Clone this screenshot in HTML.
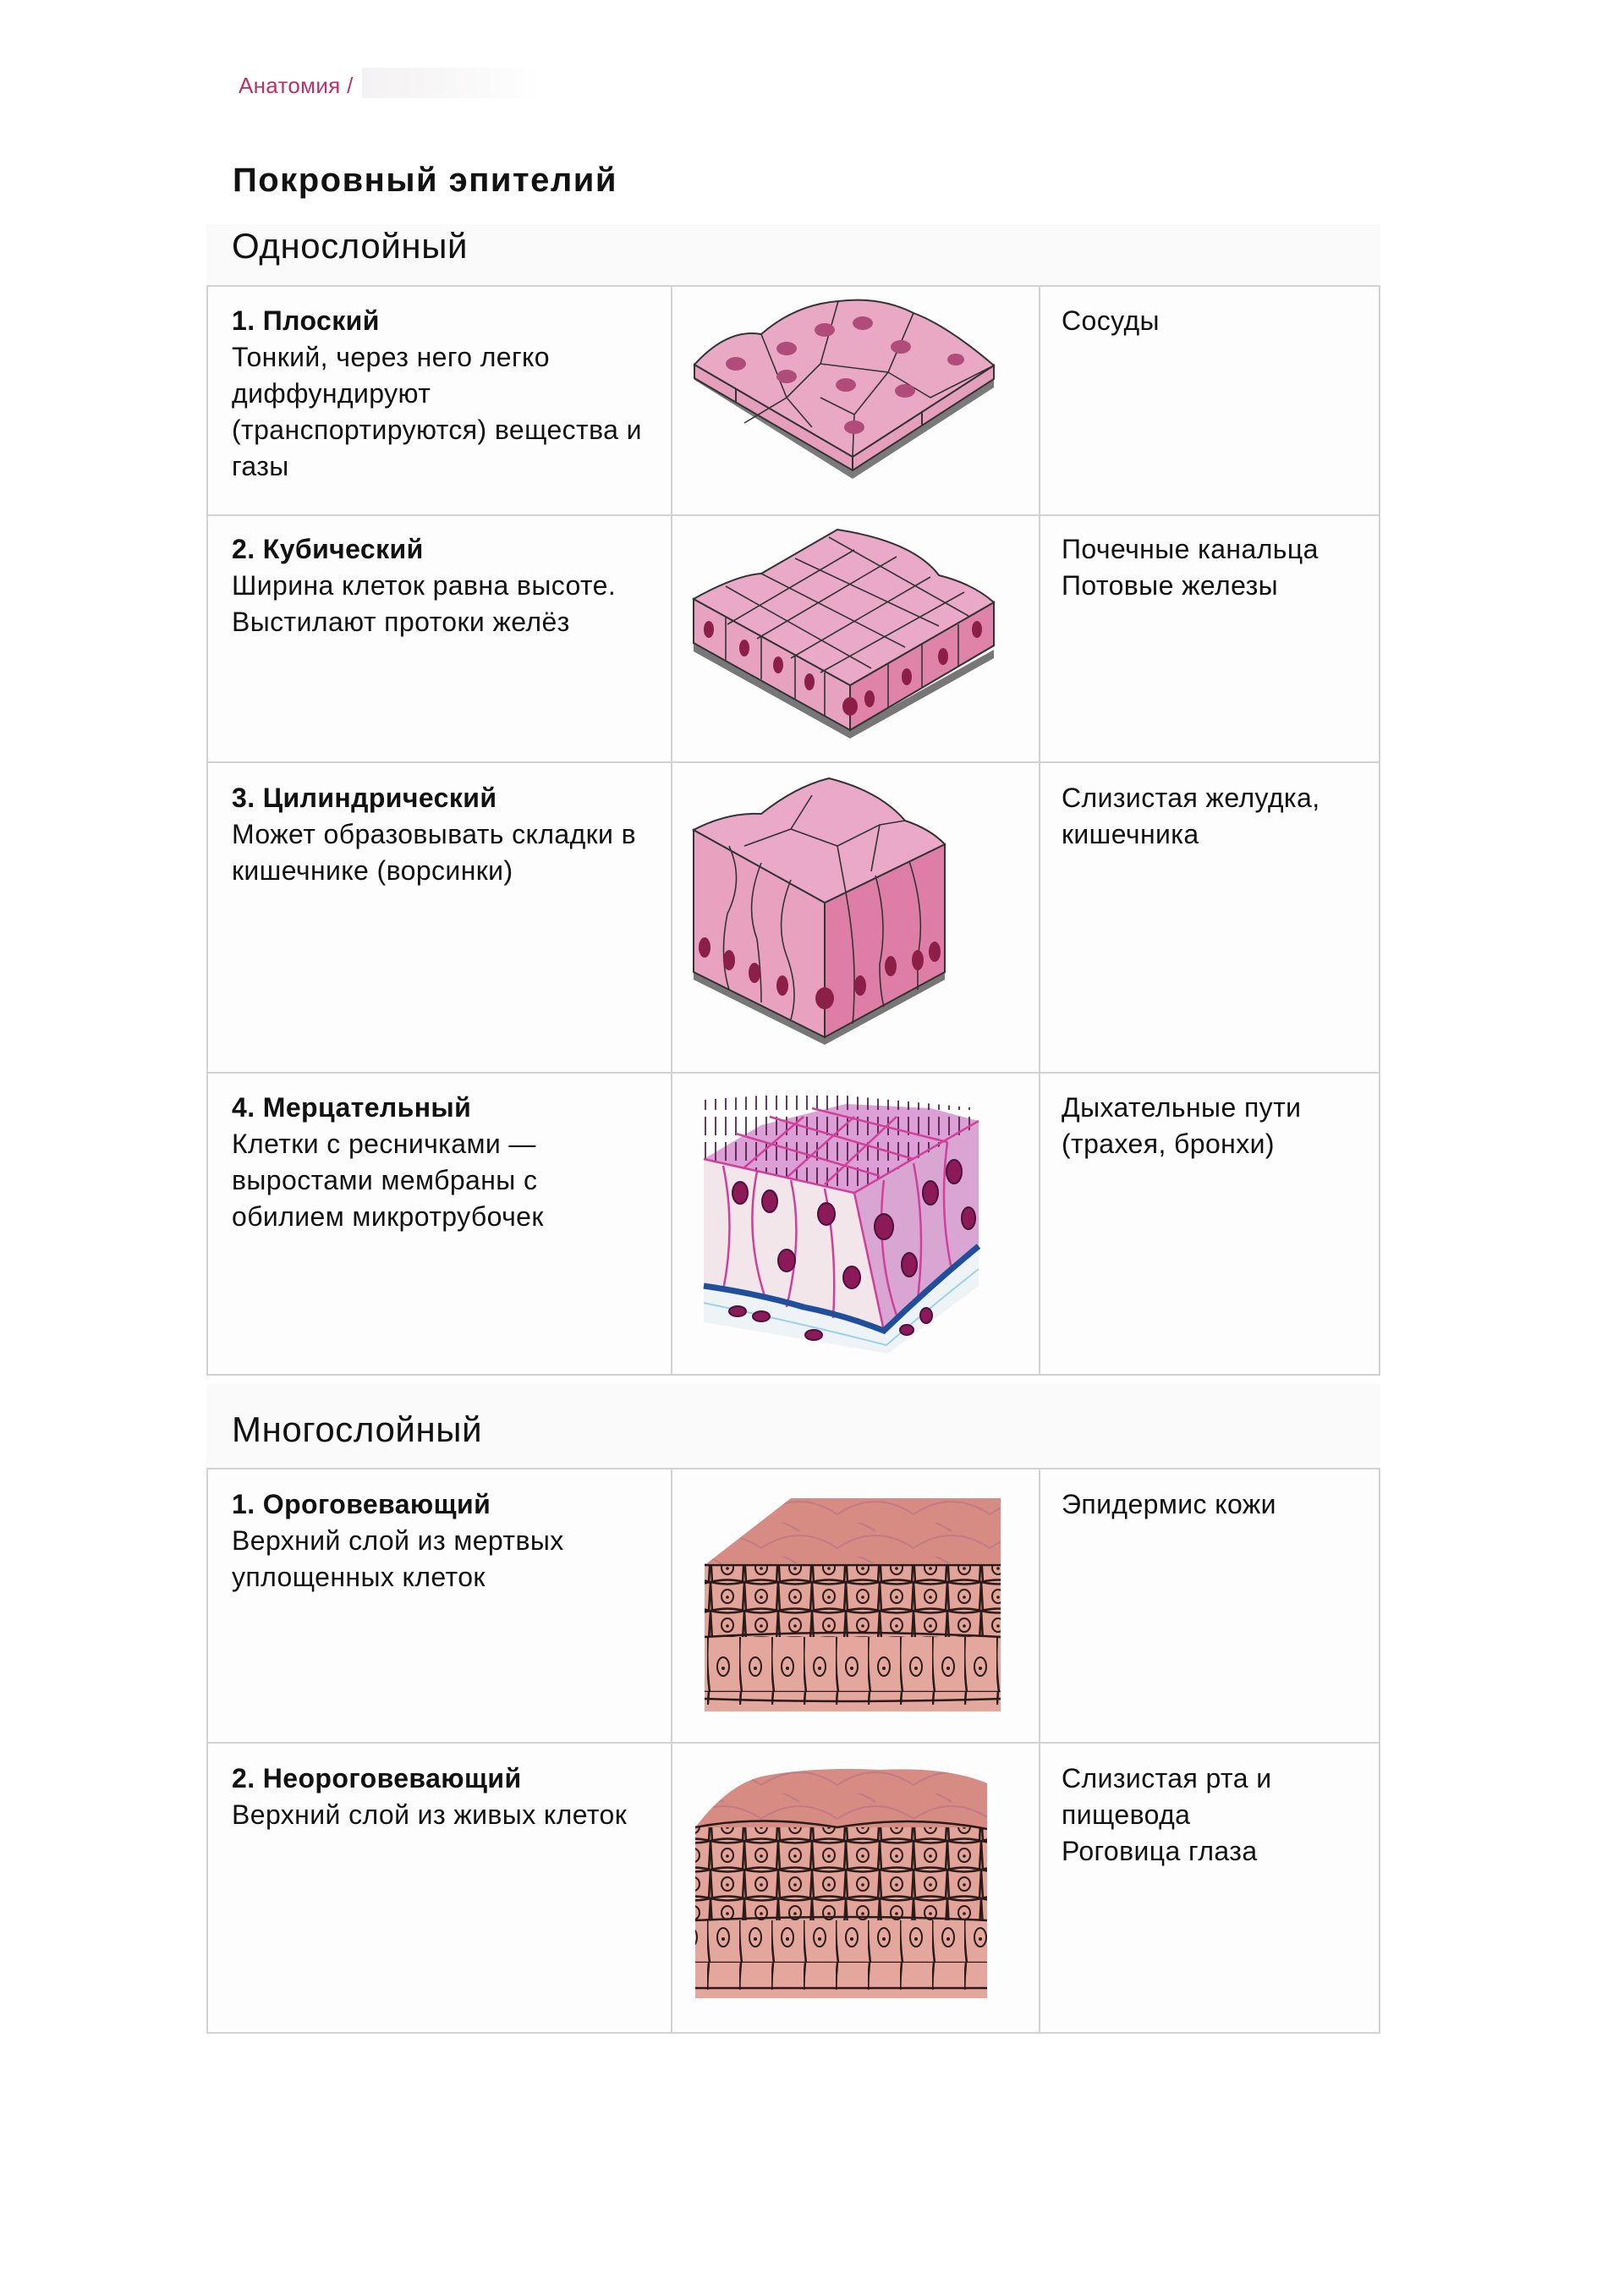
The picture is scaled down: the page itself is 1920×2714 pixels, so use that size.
<!DOCTYPE html>
<html><head><meta charset="utf-8"><style>
html,body{margin:0;padding:0;background:#fff;}
body{width:1920px;height:2714px;position:relative;overflow:hidden;font-family:"Liberation Sans","Noto Sans CJK SC",sans-serif;color:#111;}
.a{position:absolute;}
.t{position:absolute;font-size:32px;line-height:43px;white-space:nowrap;letter-spacing:0.4px;}
.t b{font-weight:bold;}
.band{position:absolute;left:244px;width:1388px;background:#fafafa;}
.h{position:absolute;font-size:42px;line-height:50px;letter-spacing:0.6px;}
.cell{position:absolute;background:#fdfdfd;border:2px solid #d2d2d2;box-sizing:border-box;}
</style></head><body>
<div class="t" style="left:282px;top:80px;font-size:26px;color:#b8336a;letter-spacing:0.3px">Анатомия /</div>
<div class="a" style="left:428px;top:80px;width:210px;height:36px;background:linear-gradient(90deg,#f4f2f3,#fbfafb 70%,#fff)"></div>
<div class="t" style="left:275px;top:190px;font-size:40px;font-weight:bold;line-height:46px;letter-spacing:1.5px">Покровный эпителий</div>

<div class="band" style="top:265px;height:73px"></div>
<div class="h" style="left:274px;top:266px">Однослойный</div>
<div class="band" style="top:1636px;height:100px"></div>
<div class="h" style="left:274px;top:1665px">Многослойный</div>

<div class="cell" style="left:244px;top:337px;width:551px;height:273px"></div>
<div class="cell" style="left:793px;top:337px;width:437px;height:273px"></div>
<div class="cell" style="left:1228px;top:337px;width:404px;height:273px"></div>
<div class="cell" style="left:244px;top:608px;width:551px;height:294px"></div>
<div class="cell" style="left:793px;top:608px;width:437px;height:294px"></div>
<div class="cell" style="left:1228px;top:608px;width:404px;height:294px"></div>
<div class="cell" style="left:244px;top:900px;width:551px;height:369px"></div>
<div class="cell" style="left:793px;top:900px;width:437px;height:369px"></div>
<div class="cell" style="left:1228px;top:900px;width:404px;height:369px"></div>
<div class="cell" style="left:244px;top:1267px;width:551px;height:359px"></div>
<div class="cell" style="left:793px;top:1267px;width:437px;height:359px"></div>
<div class="cell" style="left:1228px;top:1267px;width:404px;height:359px"></div>
<div class="cell" style="left:244px;top:1735px;width:551px;height:326px"></div>
<div class="cell" style="left:793px;top:1735px;width:437px;height:326px"></div>
<div class="cell" style="left:1228px;top:1735px;width:404px;height:326px"></div>
<div class="cell" style="left:244px;top:2059px;width:551px;height:345px"></div>
<div class="cell" style="left:793px;top:2059px;width:437px;height:345px"></div>
<div class="cell" style="left:1228px;top:2059px;width:404px;height:345px"></div>

<div class="t" style="left:274px;top:358px"><b>1. Плоский</b><br>Тонкий, через него легко<br>диффундируют<br>(транспортируются) вещества и<br>газы</div>
<div class="t" style="left:1255px;top:358px">Сосуды</div>
<div class="t" style="left:274px;top:628px"><b>2. Кубический</b><br>Ширина клеток равна высоте.<br>Выстилают протоки желёз</div>
<div class="t" style="left:1255px;top:628px">Почечные канальца<br>Потовые железы</div>
<div class="t" style="left:274px;top:922px"><b>3. Цилиндрический</b><br>Может образовывать складки в<br>кишечнике (ворсинки)</div>
<div class="t" style="left:1255px;top:922px">Слизистая желудка,<br>кишечника</div>
<div class="t" style="left:274px;top:1288px"><b>4. Мерцательный</b><br>Клетки с ресничками —<br>выростами мембраны с<br>обилием микротрубочек</div>
<div class="t" style="left:1255px;top:1288px">Дыхательные пути<br>(трахея, бронхи)</div>
<div class="t" style="left:274px;top:1757px"><b>1. Ороговевающий</b><br>Верхний слой из мертвых<br>уплощенных клеток</div>
<div class="t" style="left:1255px;top:1757px">Эпидермис кожи</div>
<div class="t" style="left:274px;top:2081px"><b>2. Неороговевающий</b><br>Верхний слой из живых клеток</div>
<div class="t" style="left:1255px;top:2081px">Слизистая рта и<br>пищевода<br>Роговица глаза</div>

<svg class="a" style="left:0;top:0" width="1920" height="2714" viewBox="0 0 1920 2714">
<defs>
<pattern id="strat" width="40" height="34" patternUnits="userSpaceOnUse">
<rect width="40" height="34" fill="#e2a399"/>
<path d="M0 0 Q20 5 40 0 M0 34 Q20 29 40 34 M0 0 L2 34 M40 0 L38 34" stroke="#2a1a18" stroke-width="2.5" fill="none"/>
<ellipse cx="20" cy="17" rx="7" ry="8" fill="none" stroke="#2a1a18" stroke-width="2"/>
<circle cx="20" cy="18" r="1.8" fill="#2a1a18"/>
</pattern>
<pattern id="basal" width="38" height="80" patternUnits="userSpaceOnUse">
<rect width="38" height="80" fill="#e3a79d"/>
<path d="M2 0 Q-2 40 3 80 M0 80 L38 80" stroke="#2a1a18" stroke-width="2.5" fill="none"/>
<ellipse cx="19" cy="50" rx="7" ry="11" fill="none" stroke="#2a1a18" stroke-width="2"/>
<circle cx="19" cy="52" r="2" fill="#2a1a18"/>
</pattern>
<pattern id="scales" width="90" height="40" patternUnits="userSpaceOnUse">
<rect width="90" height="40" fill="#d68c82"/>
<path d="M0 30 Q45 0 90 30 M-45 10 Q0 -20 45 10" stroke="#c27a86" stroke-width="2" fill="none"/>
</pattern>
<pattern id="cil" width="12" height="30" patternUnits="userSpaceOnUse">
<line x1="6" y1="0" x2="6" y2="22" stroke="#4a1a40" stroke-width="2"/>
</pattern>
</defs>

<g stroke="#333" stroke-width="2">
<polygon points="821,431 1008,548 1175,440 1175,458 1008,566 821,449" fill="#7a7a7a" stroke="none"/>
<polygon points="821,431 1008,540 1175,432 1175,448 1008,556 821,447" fill="#e69fbb"/>
<path d="M821,431 Q860,388 900,395 Q940,360 991,356 Q1040,350 1080,370 Q1120,385 1175,432 L1008,540 Z" fill="#e9a8c4"/>
<path d="M900,395 L930,470 L880,500 M930,470 L970,430 L991,356 M970,430 L1050,440 L1080,370 M1050,440 L1100,470 L1175,432 M1050,440 L1010,490 L970,470 M1010,490 L1008,540 M930,470 L960,505" fill="none" stroke-width="1.6"/>
<line x1="1008" y1="540" x2="1008" y2="556"/><line x1="870" y1="460" x2="870" y2="476"/><line x1="1090" y1="486" x2="1090" y2="502"/>
</g>
<g fill="#b04c7a">
<ellipse cx="870" cy="430" rx="12" ry="8"/><ellipse cx="930" cy="412" rx="12" ry="8"/><ellipse cx="975" cy="390" rx="12" ry="8"/>
<ellipse cx="1020" cy="382" rx="12" ry="8"/><ellipse cx="1065" cy="410" rx="12" ry="8"/><ellipse cx="1000" cy="455" rx="12" ry="8"/>
<ellipse cx="930" cy="445" rx="12" ry="8"/><ellipse cx="1070" cy="462" rx="12" ry="8"/><ellipse cx="1130" cy="425" rx="10" ry="7"/><ellipse cx="1010" cy="505" rx="12" ry="8"/>
</g>

<g stroke="#333" stroke-width="2">
<polygon points="820,760 1005,863 1175,768 1175,778 1005,873 820,770" fill="#777" stroke="none"/>
<polygon points="820,708 1005,810 1175,712 1175,763 1005,863 820,760" fill="#e7a2c0"/>
<polygon points="1005,810 1175,712 1175,763 1005,863" fill="#df83a8"/>
<path d="M820,708 Q870,680 900,678 Q940,655 990,626 Q1080,640 1110,680 Q1150,690 1175,712 L1005,810 Z" fill="#eaa9c6"/>
<path d="M858,693 L1030,790 M900,678 L1070,765 M940,660 L1110,740 M980,635 L1145,728 M860,738 L1010,650 M895,755 L1060,658 M935,778 L1100,682 M970,795 L1140,700" fill="none" stroke-width="1.6"/>
<path d="M858,729 L858,780 M900,752 L900,803 M940,775 L940,826 M975,795 L975,846 M1050,785 L1050,836 M1090,762 L1090,812 M1133,738 L1133,788" fill="none" stroke-width="1.6"/>
</g>
<g fill="#8c1f47">
<ellipse cx="838" cy="744" rx="6" ry="10"/><ellipse cx="880" cy="766" rx="6" ry="10"/><ellipse cx="920" cy="786" rx="6" ry="10"/>
<ellipse cx="957" cy="806" rx="6" ry="10"/><ellipse cx="1005" cy="835" rx="9" ry="11"/><ellipse cx="1028" cy="826" rx="6" ry="10"/>
<ellipse cx="1072" cy="800" rx="6" ry="10"/><ellipse cx="1115" cy="776" rx="6" ry="10"/><ellipse cx="1155" cy="744" rx="6" ry="10"/>
</g>

<g stroke="#333" stroke-width="2">
<polygon points="820,1149 975,1226 1117,1149 1117,1158 975,1235 820,1158" fill="#777" stroke="none"/>
<polygon points="820,981 975,1067 975,1226 820,1149" fill="#e8a2c0"/>
<polygon points="975,1067 1117,998 1117,1149 975,1226" fill="#de7ea6"/>
<path d="M820,981 Q860,960 900,962 Q940,930 980,920 Q1040,935 1070,970 Q1100,980 1117,998 L975,1067 Z" fill="#eaa9c6"/>
<path d="M862,1000 Q880,1040 860,1080 Q850,1130 862,1170 M900,1020 Q880,1070 895,1110 Q900,1150 900,1185 M935,1040 Q915,1090 930,1130 Q945,1170 935,1205 M1000,1055 Q1010,1110 1010,1160 Q1010,1190 1008,1210 M1035,1035 Q1050,1090 1040,1140 Q1040,1170 1045,1190 M1075,1018 Q1095,1080 1085,1130 L1085,1170 M880,1000 L935,980 L990,1000 L1000,1055 M935,980 L960,940 M990,1000 L1040,975 L1070,970 M1040,975 L1030,1030" fill="none" stroke-width="1.6"/>
</g>
<g fill="#8c1f47">
<ellipse cx="833" cy="1120" rx="7" ry="12"/><ellipse cx="862" cy="1135" rx="7" ry="12"/><ellipse cx="892" cy="1150" rx="7" ry="12"/>
<ellipse cx="925" cy="1165" rx="7" ry="12"/><ellipse cx="975" cy="1180" rx="11" ry="13"/><ellipse cx="1017" cy="1165" rx="7" ry="12"/>
<ellipse cx="1053" cy="1142" rx="7" ry="12"/><ellipse cx="1085" cy="1135" rx="7" ry="12"/><ellipse cx="1105" cy="1125" rx="7" ry="12"/>
</g>

<g>
<polygon points="832,1520 1045,1573 1157,1473 1157,1520 1050,1600 832,1563" fill="#eef4f6"/>
<polygon points="832,1370 1010,1410 1045,1573 832,1520" fill="#f3e6ea"/>
<polygon points="1010,1410 1157,1325 1157,1473 1045,1573" fill="#d9a5d3"/>
<polygon points="832,1370 900,1330 1000,1305 1100,1310 1157,1325 1010,1410" fill="#dca0d6"/>
<polygon points="832,1300 900,1295 1000,1295 1157,1310 1157,1330 1010,1410 832,1370" fill="url(#cil)" opacity="0.85"/>
<path d="M832,1370 L1010,1410 L1157,1325 M870,1340 L1040,1390 M910,1320 L1080,1370 M960,1310 L1120,1350 M880,1380 L950,1320 M930,1392 L1010,1320 M975,1400 L1060,1320" stroke="#d0409a" stroke-width="2.5" fill="none"/>
<path d="M855,1378 Q870,1450 855,1525 M895,1385 Q880,1460 905,1535 M935,1395 Q950,1460 930,1545 M975,1405 Q990,1480 985,1558 M1045,1395 Q1035,1480 1060,1555 M1080,1375 Q1095,1450 1085,1535 M1120,1350 Q1110,1430 1125,1500 M1010,1410 L1045,1573" stroke="#d0409a" stroke-width="2.5" fill="none"/>
<path d="M832,1520 Q900,1530 950,1545 Q1000,1555 1045,1573 Q1100,1520 1157,1473" stroke="#1f4f9a" stroke-width="7" fill="none"/>
<path d="M832,1540 Q950,1565 1048,1590 Q1100,1545 1157,1500" stroke="#9fd0e6" stroke-width="2" fill="none"/>
</g>
<g fill="#8c1a58" stroke="#4a1040" stroke-width="2">
<ellipse cx="875" cy="1410" rx="9" ry="13"/><ellipse cx="910" cy="1420" rx="9" ry="13"/><ellipse cx="977" cy="1435" rx="10" ry="13"/>
<ellipse cx="930" cy="1490" rx="10" ry="13"/><ellipse cx="1007" cy="1510" rx="10" ry="13"/><ellipse cx="1045" cy="1450" rx="11" ry="15"/>
<ellipse cx="1100" cy="1410" rx="9" ry="14"/><ellipse cx="1128" cy="1385" rx="9" ry="14"/><ellipse cx="1145" cy="1440" rx="8" ry="13"/>
<ellipse cx="1075" cy="1495" rx="9" ry="14"/><ellipse cx="872" cy="1550" rx="10" ry="6"/><ellipse cx="900" cy="1556" rx="10" ry="6"/>
<ellipse cx="962" cy="1578" rx="10" ry="6"/><ellipse cx="1095" cy="1555" rx="7" ry="9"/><ellipse cx="1072" cy="1572" rx="8" ry="6"/>
</g>

<g>
<polygon points="833,1850 935,1771 1183,1771 1183,1850" fill="url(#scales)"/>
<rect x="833" y="1848" width="350" height="175" fill="#e3a79d"/>
<rect x="833" y="1850" width="350" height="30" fill="url(#strat)"/>
<rect x="833" y="1880" width="350" height="60" fill="url(#strat)"/>
<rect x="833" y="1935" width="350" height="80" fill="url(#basal)"/>
<path d="M833,1850 L1183,1850 M833,1935 Q1000,1925 1183,1935 M833,2008 Q1000,2014 1183,2008" stroke="#2a1a18" stroke-width="2.5" fill="none"/>
</g>

<g>
<path d="M822,2160 Q860,2110 900,2100 Q960,2088 1040,2092 Q1120,2088 1167,2108 L1167,2200 L822,2200 Z" fill="url(#scales)"/>
<rect x="822" y="2160" width="345" height="202" fill="#e3a79d"/>
<rect x="822" y="2160" width="345" height="40" fill="url(#strat)"/>
<rect x="822" y="2200" width="345" height="70" fill="url(#strat)"/>
<rect x="822" y="2270" width="345" height="82" fill="url(#basal)"/>
<path d="M822,2160 Q900,2145 990,2160 Q1080,2145 1167,2162 M822,2270 Q1000,2262 1167,2270 M822,2350 L1167,2350" stroke="#2a1a18" stroke-width="2.5" fill="none"/>
</g>
</svg>
</body></html>
